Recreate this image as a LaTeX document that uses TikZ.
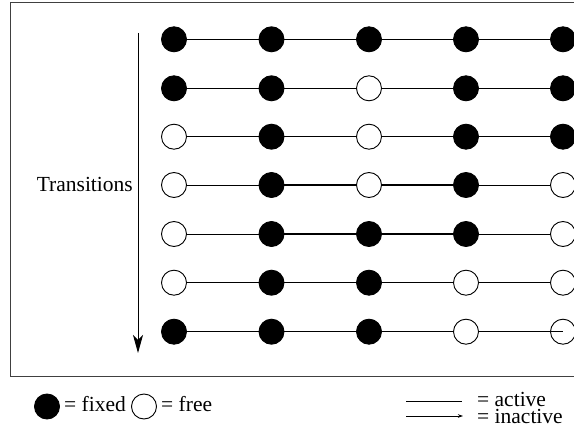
\documentclass[tikz,border=0pt]{standalone}
\usepackage{fontspec}
\setmainfont{Liberation Serif}
\usetikzlibrary{arrows.meta}
\begin{document}
\begin{tikzpicture}[x=1pt,y=-1pt,
  site/.style={circle,draw=black,line width=0.9pt,minimum size=25pt,inner sep=0pt},
  bond/.style={line width=1.3pt},
  thinbond/.style={line width=0.95pt},
  lbl/.style={font=\fontsize{21.5}{26}\selectfont,inner sep=0pt}]
\useasboundingbox (0,0) rectangle (574,436);
% frame
\draw[black!75,line width=1pt] (580,3) -- (10,3) -- (10,376) -- (580,376);

% lattice of sites: row number, y position, fill of the five columns
\foreach \r/\y/\fa/\fb/\fc/\fd/\fe in {
  1/39.3/black/black/black/black/black,
  2/88.3/black/black/white/black/black,
  3/136.7/white/black/white/black/black,
  4/185/white/black/white/black/white,
  5/234/white/black/black/black/white,
  6/282.7/white/black/black/white/white,
  7/331.7/black/black/black/white/white}{
  \node[site,fill=\fa] (s\r-1) at (174,\y) {};
  \node[site,fill=\fb] (s\r-2) at (271.5,\y) {};
  \node[site,fill=\fc] (s\r-3) at (369,\y) {};
  \node[site,fill=\fd] (s\r-4) at (466,\y) {};
  \node[site,fill=\fe] (s\r-5) at (563,\y) {};
}

% bonds between neighbouring sites
\foreach \a/\b in {1/2,2/3,3/4,4/5}{
  \draw[bond] (s1-\a) -- (s1-\b);
  \draw[bond] (s2-\a) -- (s2-\b);
}
\draw[thinbond] (s3-1) -- (s3-2);
\draw[bond] (s3-2) -- (s3-3);
\draw[bond] (s3-3) -- (s3-4);
\draw[bond] (s3-4) -- (s3-5);
\draw[thinbond] (s4-1) -- (s4-2);
\draw[bond] (s4-2) -- (s4-3);
\draw[bond] (s4-3) -- (s4-4);
\draw[thinbond] (s4-4) -- (s4-5);
\draw[thinbond] (s5-1) -- (s5-2);
\draw[bond] (s5-2) -- (s5-3);
\draw[bond] (s5-3) -- (s5-4);
\draw[thinbond] (s5-4) -- (s5-5);
\draw[thinbond] (s6-1) -- (s6-2);
\draw[bond] (s6-2) -- (s6-3);
\draw[thinbond] (s6-3) -- (s6-4);
\draw[thinbond] (s6-4) -- (s6-5);
\draw[bond] (s7-1) -- (s7-2);
\draw[bond] (s7-2) -- (s7-3);
\draw[thinbond] (s7-3) -- (s7-4);
\draw[thinbond] (s7-4) -- (s7-5.center);

% time axis
\coordinate (tstart) at (138,33);
\coordinate (tend) at (138,353);
\draw[line width=0.9pt,-{Stealth[length=18pt,width=10pt,inset=5pt]}] (tstart) -- (tend);
\node[lbl,anchor=base east] (trans) at (133,192) {Transitions};

% legend: sites
\node[site,fill=black] (lfix) at (47,406.5) {};
\node[lbl,anchor=base west] (tfix) at (64,411) {= fixed};
\node[site,fill=white] (lfree) at (144,406.5) {};
\node[lbl,anchor=base west] (tfree) at (161,411) {= free};

% legend: bonds
\coordinate (la1) at (406,401.5);
\coordinate (la2) at (462,401.5);
\draw[thinbond] (la1) -- (la2);
\node[lbl,anchor=base west] (tact) at (477,406) {= active};
\coordinate (li1) at (406,416);
\coordinate (li2) at (463,416);
\draw[thinbond,-{Stealth[length=5pt,width=3.5pt]}] (li1) -- (li2);
\node[lbl,anchor=base west] (tinact) at (477,423) {= inactive};
\end{tikzpicture}
\end{document}
